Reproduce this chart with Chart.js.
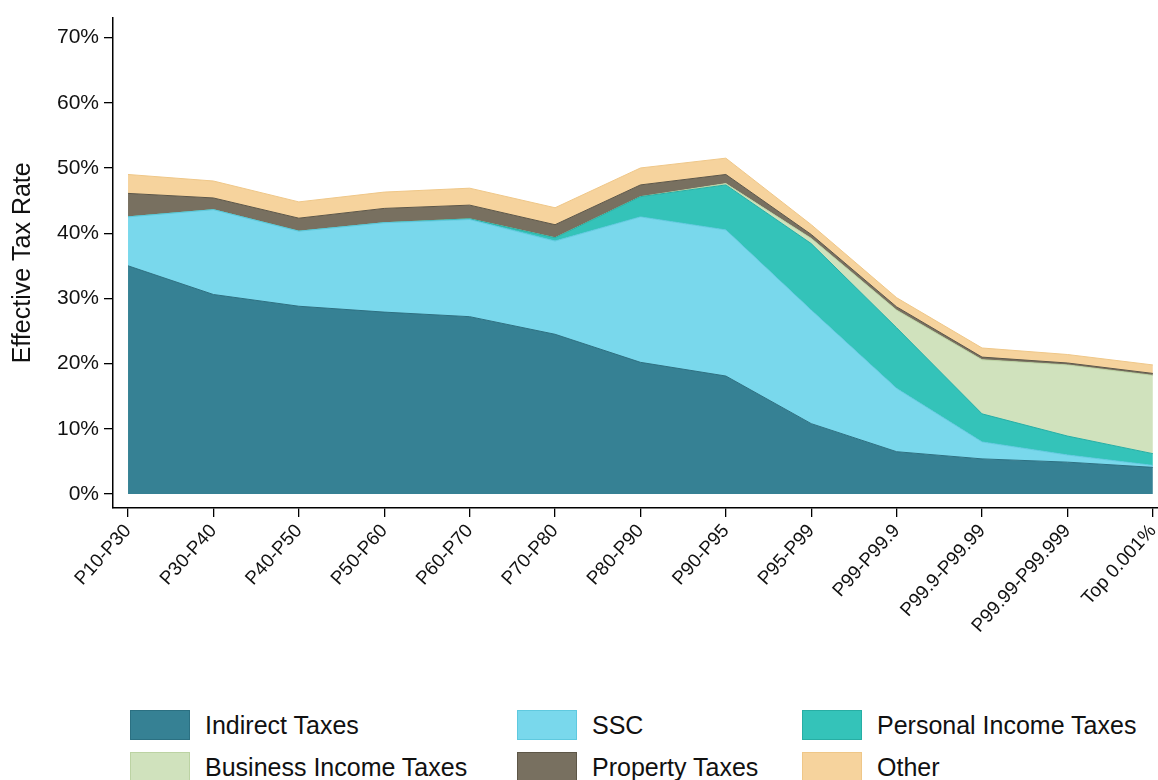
<!DOCTYPE html>
<html>
<head>
<meta charset="utf-8">
<script src="https://cdn.jsdelivr.net/npm/chart.js@4/dist/chart.umd.min.js"></script>
<style>
  body { margin: 0; background: #fff; font-family: "Liberation Sans", Arial, sans-serif; }
  #wrap { position: relative; width: 1158px; height: 780px; overflow: hidden; }
  #chart { position: absolute; left: 0; top: 0; }
  .lg { position: absolute; display: flex; align-items: center; font-size: 25px; color: #111; }
  .lg span.box { display: inline-block; width: 60px; height: 30px; margin-right: 15px; box-sizing: border-box; }
</style>
</head>
<body>
<div id="wrap">
  <canvas id="chart" width="1158" height="700"></canvas>
  <div id="legend"></div>
</div>
<script>
// categories (income groups)
const groups = ['P10-P30','P30-P40','P40-P50','P50-P60','P60-P70','P70-P80','P80-P90','P90-P95','P95-P99','P99-P99.9','P99.9-P99.99','P99.99-P99.999','Top 0.001%'];

// effective tax rate by component, % of income
const indirectTaxes  = [35.0, 30.6, 28.8, 27.9, 27.2, 24.5, 20.2, 18.1, 10.8, 6.5, 5.4, 4.9, 4.1];
const ssc            = [7.5, 13.0, 11.5, 13.7, 14.9, 14.3, 22.3, 22.4, 17.4, 9.7, 2.6, 1.1, 0.3];
const personalIncome = [0, 0, 0, 0, 0.1, 0.5, 3.1, 6.9, 10.2, 9.3, 4.3, 2.9, 1.8];
const businessIncome = [0, 0, 0, 0, 0, 0, 0, 0.2, 0.8, 2.7, 8.3, 10.9, 12.0];
const propertyTaxes  = [3.6, 1.8, 2.0, 2.2, 2.1, 2.0, 1.8, 1.4, 0.6, 0.5, 0.4, 0.3, 0.3];
const otherTaxes     = [2.9, 2.6, 2.5, 2.5, 2.6, 2.6, 2.6, 2.5, 1.5, 1.4, 1.4, 1.3, 1.3];

const yTicks = [0, 10, 20, 30, 40, 50, 60, 70];

const series = [
  { label: 'Indirect Taxes', data: indirectTaxes, fill: '#368194', line: '#2b7082' },
  { label: 'SSC', data: ssc, fill: '#79d8ec', line: '#5fc9df' },
  { label: 'Personal Income Taxes', data: personalIncome, fill: '#34c3b9', line: '#27aea4' },
  { label: 'Business Income Taxes', data: businessIncome, fill: '#d0e2bd', line: '#bcd3a3' },
  { label: 'Property Taxes', data: propertyTaxes, fill: '#787060', line: '#5d5647' },
  { label: 'Other', data: otherTaxes, fill: '#f6d39d', line: '#efc788' }
];

const datasets = series.map((s, i) => ({
  label: s.label,
  data: s.data.map((v, j) => ({ x: j, y: v })),
  backgroundColor: s.fill,
  borderColor: s.line,
  borderWidth: 1,
  pointRadius: 0,
  tension: 0,
  fill: i === 0 ? 'origin' : '-1'
}));

const font = "'Liberation Sans', Arial, sans-serif";

new Chart(document.getElementById('chart'), {
  type: 'line',
  data: { datasets: datasets },
  options: {
    responsive: false,
    animation: false,
    layout: { padding: { top: 15, right: 0, left: 0, bottom: 0 } },
    plugins: { legend: { display: false }, tooltip: { enabled: false } },
    scales: {
      x: {
        type: 'linear',
        min: -0.176,
        max: 12.06,
        afterBuildTicks: s => { s.ticks = groups.map((g, i) => ({ value: i })); },
        afterFit: s => { s.height = 192; s.paddingRight = 0; s.paddingLeft = 0; },
        ticks: {
          autoSkip: false,
          minRotation: 48,
          maxRotation: 48,
          color: '#111',
          font: { family: font, size: 19 },
          callback: v => groups[v]
        },
        grid: { display: true, drawOnChartArea: false, drawTicks: true, tickLength: 9, color: '#000', lineWidth: 1.3 },
        border: { display: true, color: '#000', width: 1.5 }
      },
      y: {
        stacked: true,
        min: -2.13,
        max: 73.05,
        afterBuildTicks: s => { s.ticks = yTicks.map(v => ({ value: v })); },
        afterFit: s => { s.width = 113; },
        ticks: {
          color: '#111',
          padding: 5,
          font: { family: font, size: 21 },
          callback: v => v + '%'
        },
        title: { display: true, text: 'Effective Tax Rate', color: '#111', font: { family: font, size: 25 }, padding: { top: 8, bottom: 4 } },
        grid: { display: true, drawOnChartArea: false, drawTicks: true, tickLength: 9, color: '#000', lineWidth: 1.3 },
        border: { display: true, color: '#000', width: 1.5 }
      }
    }
  }
});

// legend, 3 columns x 2 rows
const legend = document.getElementById('legend');
const colX = [130, 517, 802];
const rowY = [710, 752];
series.forEach((s, i) => {
  const d = document.createElement('div');
  d.className = 'lg';
  d.style.left = colX[i % 3] + 'px';
  d.style.top = rowY[Math.floor(i / 3)] + 'px';
  d.innerHTML = `<span class="box" style="background:${s.fill};border:1px solid ${s.line}"></span>${s.label}`;
  legend.appendChild(d);
});
</script>
</body>
</html>
